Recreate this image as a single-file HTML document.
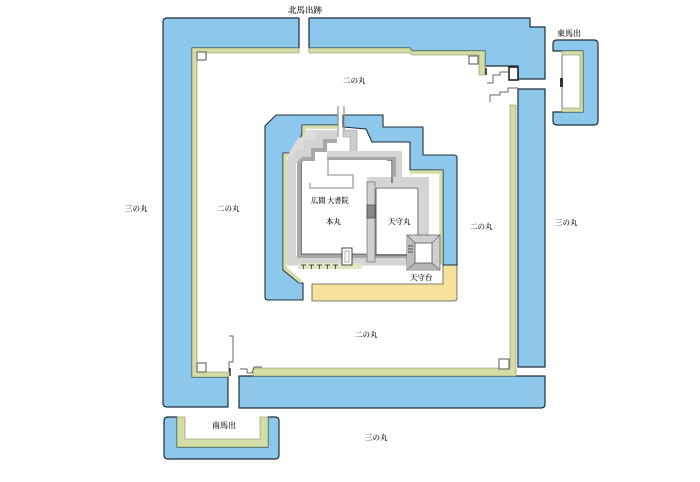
<!DOCTYPE html>
<html><head><meta charset="utf-8"><style>
html,body{margin:0;padding:0;background:#fff;}
svg{display:block;}
text{font-family:"Liberation Serif","Noto Serif CJK SC","Noto Sans CJK JP",serif;fill:#1a1a1a;font-weight:600;}
</style></head><body>
<svg width="700" height="482" viewBox="0 0 700 482" xmlns="http://www.w3.org/2000/svg">
<rect width="700" height="482" fill="#fff"/>

<!-- outer moat -->
<g fill="#8dc8ec" stroke="#1f2d3a" stroke-width="1.2" stroke-linejoin="round">
  <path d="M163,22 Q163,18 167,18 L299,18 L299,48 L192,48 L192,377 L228,377 L228,407 L167,407 Q163,407 163,403 Z"/>
  <path d="M309,18 L530,18 L530,27 L545,27 L545,79 L518,79 L518,66 L485,66 L485,51 L412,51 L410,48 L309,48 Z"/>
  <path d="M518,89 L545,89 L545,367 L518,367 Z"/>
  <path d="M239,376 L545,376 L545,404 Q545,408 541,408 L239,408 Z"/>
  <path d="M553,51 L553,44 Q553,40 557,40 L594,40 Q598,40 598,44 L598,121 Q598,125 594,125 L557,125 Q553,125 553,121 L553,112 L583,112 L583,51 Z"/>
  <path d="M164,421 Q164,417 168,417 L177,417 L177,447 L268,447 L268,417 L275,417 Q279,417 279,421 L279,455 Q279,459 275,459 L168,459 Q164,459 164,455 Z"/>
</g>

<!-- green strips (outer) -->
<g fill="#d3dda6" stroke="#7f8a5a" stroke-width="0.6">
  <path d="M192,48 L299,48 L299,53 L197,53 L197,372 L228,372 L228,377 L192,377 Z"/>
  <path d="M309,48 L410,48 L412,51 L485,51 L485,75 L479,75 L479,55 L412,55 L410,53 L309,53 Z"/>
  <path d="M510,105 L516,105 L516,376 L253,376 L253,368 L510,368 Z"/>
  <path d="M562,51 L583,51 L583,112 L562,112 L562,108 L580,108 L580,55 L562,55 Z"/>
  <path d="M177,417 L185,417 L185,439 L260,439 L260,417 L268,417 L268,447 L177,447 Z"/>
</g>

<!-- small boxes -->
<g fill="#fff" stroke="#555" stroke-width="1">
  <rect x="197" y="52" width="9" height="8"/>
  <rect x="197" y="363" width="9" height="9"/>
  <rect x="499" y="359" width="10" height="10"/>
  <rect x="469" y="56" width="9" height="8"/>
</g>
<rect x="509" y="67" width="9" height="13" fill="#fff" stroke="#222" stroke-width="1.6"/>

<!-- gates outer -->
<g fill="none" stroke="#666" stroke-width="1">
  <polyline points="487,83 493,83 493,75 500,75 500,72 509,72"/>
  <polyline points="490,102 490,95 500,95 500,92 508,92 508,88 518,88"/>
  <polyline points="229,336 233,336 233,362 229,362 229,372"/>
  <polyline points="240,369 247,369 247,373 252,373 254,367 262,367"/>
  <line x1="562" y1="55" x2="562" y2="108" stroke="#888" stroke-width="1.2"/>
</g>
<line x1="486" y1="68" x2="486" y2="75" stroke="#222" stroke-width="1.5"/>
<line x1="230" y1="368" x2="230" y2="376" stroke="#333" stroke-width="1.5"/>
<rect x="560" y="78" width="3" height="9" fill="#333"/>

<!-- inner moat -->
<path d="M312,284 L443,284 L443,265 L457,265 L457,298 Q457,301 454,301 L312,301 Z" fill="#f5e29b" stroke="#555" stroke-width="0.8"/>
<g fill="#8dc8ec" stroke="#1f2d3a" stroke-width="1.1" stroke-linejoin="round">
  <path d="M265,126 L276,115 L338,115 L338,125 L302,125 L302,134 L294,153 L283,153 L283,270 L299,283 L303,283 L303,300 L268,300 Q265,300 265,297 Z"/>
  <path d="M343,115 L383,115 L383,127 L423,127 L423,155 L454,155 Q457,155 457,158 L457,265 L443,265 L443,170 L410,170 L410,142 L372,142 L366,129 L343,127 Z"/>
</g>
<g fill="none" stroke="#d3dda6" stroke-width="3.5">
  <polyline points="337,127 304,127 304,136 296,155 285,155 285,268 301,282"/>
  <polyline points="410,172 441,172 441,264"/>
</g>

<!-- light gray chamfer region top-left of honmaru -->
<polygon points="306,130 337,130 337,136 320,136 320,145 308,145 308,154 299,154 291.5,162 287.5,162 287.5,156 298,138 306,136" fill="#dcdcdc"/>

<!-- honmaru walls -->
<line x1="338" y1="106" x2="338" y2="137" stroke="#999" stroke-width="1.3"/>
<line x1="344" y1="106" x2="344" y2="132" stroke="#999" stroke-width="1.3"/>
<g fill="none" stroke-linejoin="miter">
  <polyline points="337,136 320,136 320,145 308,145 308,154 299,154 291.5,162 291.5,261 410,261" stroke="#d4d4d4" stroke-width="9"/>
  <polyline points="337,141 325,141 325,150 313,150 313,159 303,159 299,163 299,256 410,256" stroke="#a8a8a8" stroke-width="4"/>
  <polyline points="301.5,163 301.5,254 366,254" stroke="#444" stroke-width="0.7"/>
  <polyline points="367,182 424,182 424,238" stroke="#d4d4d4" stroke-width="10"/>
  <polyline points="376,188 418,188 418,242" stroke="#333" stroke-width="0.8"/>
  <polyline points="376,188 376,255 410,255" stroke="#333" stroke-width="0.8"/>
  <polyline points="328,158 328,175 353,175 353,188 310,188 310,183" stroke="#b0b0b0" stroke-width="1.6"/>
  <polyline points="387,160 392,160 392,183" stroke="#222" stroke-width="0.9"/>
</g>
<polygon points="343,130 357,130 357,157 350,157 350,137 343,137" fill="#cdcdcd" stroke="#999" stroke-width="0.6"/>
<rect x="327" y="151" width="75" height="6" fill="#d4d4d4"/>
<rect x="327" y="157" width="67" height="3" fill="#a8a8a8"/>
<rect x="396" y="151" width="6" height="26" fill="#d4d4d4"/>
<rect x="393" y="157" width="3" height="20" fill="#a8a8a8"/>

<!-- divider -->
<rect x="367" y="182" width="8" height="80" fill="#cfcfcf" stroke="#777" stroke-width="0.8"/>
<rect x="367" y="205" width="8" height="13" fill="#8a8a8a" stroke="#333" stroke-width="0.6"/>

<!-- tenshu-dai -->
<rect x="407" y="235" width="33" height="35" fill="#cfcfcf" stroke="#666" stroke-width="0.8"/>
<polygon points="407,270 415,263 432,263 440,270" fill="#b5b5b5"/>
<polygon points="407,235 415,243 415,263 407,270" fill="#bdbdbd"/>
<g stroke="#666" stroke-width="0.7">
  <line x1="407" y1="235" x2="415" y2="243"/><line x1="440" y1="235" x2="432" y2="243"/>
  <line x1="440" y1="270" x2="432" y2="263"/><line x1="407" y1="270" x2="415" y2="263"/>
</g>
<rect x="415" y="243" width="17" height="20" fill="#fff" stroke="#555" stroke-width="0.8"/>
<g stroke="#333" stroke-width="0.8"><line x1="408" y1="246" x2="413" y2="246"/><line x1="408" y1="249" x2="413" y2="249"/><line x1="408" y1="252" x2="413" y2="252"/></g>

<!-- tick strip -->
<rect x="298" y="263" width="64" height="6" fill="#e0e7c4"/>
<g stroke="#333" stroke-width="0.8">
  <line x1="301" y1="265" x2="306" y2="265"/><line x1="303.5" y1="265" x2="303.5" y2="269"/>
  <line x1="309" y1="265" x2="314" y2="265"/><line x1="311.5" y1="265" x2="311.5" y2="269"/>
  <line x1="317" y1="265" x2="322" y2="265"/><line x1="319.5" y1="265" x2="319.5" y2="269"/>
  <line x1="325" y1="265" x2="330" y2="265"/><line x1="327.5" y1="265" x2="327.5" y2="269"/>
  <line x1="333" y1="265" x2="338" y2="265"/><line x1="335.5" y1="265" x2="335.5" y2="269"/>
</g>
<rect x="342" y="248" width="10" height="17" fill="#fff" stroke="#444" stroke-width="1"/>
<rect x="345" y="251" width="4" height="11" fill="#fff" stroke="#777" stroke-width="0.6"/>

<!-- labels -->
<text x="288" y="13" font-size="8.5">北馬出跡</text>
<text x="557" y="36" font-size="8">東馬出</text>
<text x="343" y="83" font-size="7.5">二の丸</text>
<text x="125" y="211" font-size="7.5">三の丸</text>
<text x="217" y="211" font-size="7.5">二の丸</text>
<text x="470" y="229" font-size="7.5">二の丸</text>
<text x="555" y="225" font-size="7.5">三の丸</text>
<text x="355" y="337" font-size="7.5">二の丸</text>
<text x="365" y="440" font-size="7.5">三の丸</text>
<text x="212" y="428" font-size="8">南馬出</text>
<text x="326" y="224" font-size="7.5">本丸</text>
<text x="388" y="224" font-size="7.5">天守丸</text>
<text x="410" y="280" font-size="7.5">天守台</text>
<text x="311" y="203" font-size="7.2">広間 大書院</text>
</svg>
</body></html>
